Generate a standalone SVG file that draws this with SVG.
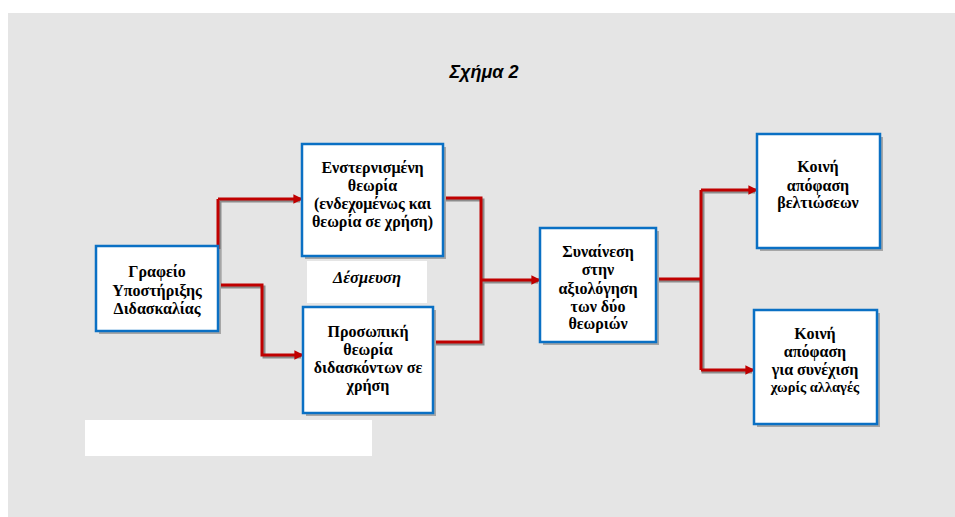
<svg xmlns="http://www.w3.org/2000/svg" width="955" height="517" viewBox="0 0 955 517">
<defs>
<style>
.bg{fill:#e5e5e5}
.box{fill:#ffffff;stroke:#0a70c4;stroke-width:2.5}
.sh{fill:#a6a6a6}
.t{font-family:"Liberation Serif","DejaVu Serif","Times New Roman",serif;font-weight:bold;font-size:16px;fill:#000;text-anchor:middle}
.ti{font-family:"Liberation Serif","DejaVu Serif","Times New Roman",serif;font-weight:bold;font-style:italic;font-size:16.5px;fill:#000;text-anchor:middle}
.title{font-family:"Liberation Sans",Arial,sans-serif;font-weight:bold;font-style:italic;font-size:18px;fill:#000;text-anchor:middle}
.ln{fill:none;stroke:#c00000;stroke-width:3}
.lnsh{fill:none;stroke:#8c8c8c;stroke-width:3}
</style>
<marker id="ar" viewBox="0 0 10 10" refX="9" refY="5" markerWidth="3.2" markerHeight="3.2" orient="auto" markerUnits="strokeWidth">
<path d="M0,0 L10,5 L0,10 z" fill="#c00000"/>
</marker>
</defs>
<rect class="bg" x="8" y="13" width="947" height="504"/>
<text class="title" x="484" y="78">Σχήμα 2</text>
<rect x="85" y="420" width="287" height="36" fill="#ffffff"/>

<g id="connectors">
<g transform="translate(2,2)">
<polyline class="lnsh" points="218,199 218,285"/>
<polyline class="lnsh" points="218,199 298,199"/>
<polyline class="lnsh" points="218,285 262,285 262,355 299,355"/>
<polyline class="lnsh" points="443,198 481,198 481,342 433,342"/>
<polyline class="lnsh" points="481,280 536,280"/>
<polyline class="lnsh" points="656,279 701,279"/>
<polyline class="lnsh" points="753,190 701,190 701,370 750,370"/>
</g>
<polyline class="ln" points="218,199 218,285"/>
<polyline class="ln" points="218,199 302,199" marker-end="url(#ar)"/>
<polyline class="ln" points="218,285 262,285 262,355 303,355" marker-end="url(#ar)"/>
<polyline class="ln" points="443,198 481,198 481,342 433,342"/>
<polyline class="ln" points="481,280 540,280" stroke-width="4" marker-end="url(#ar)"/>
<polyline class="ln" points="656,279 701,279" stroke-width="4"/>
<polyline class="ln" points="701,190 701,370"/>
<polyline class="ln" points="701,190 757,190" marker-end="url(#ar)"/>
<polyline class="ln" points="701,370 754,370" marker-end="url(#ar)"/>
</g>

<g id="node-grafeio">
<rect class="sh" x="99" y="249" width="122" height="85"/>
<rect class="box" x="96" y="246" width="122" height="85"/>
<text class="t" x="157" y="277">Γραφείο</text>
<text class="t" x="157" y="296">Υποστήριξης</text>
<text class="t" x="157" y="314">Διδασκαλίας</text>
</g>

<g id="node-enstern">
<rect class="sh" x="305" y="147" width="141" height="112"/>
<rect class="box" x="302" y="144" width="141" height="112"/>
<text class="t" x="372.5" y="173">Ενστερνισμένη</text>
<text class="t" x="372.5" y="191">θεωρία</text>
<text class="t" x="372.5" y="209">(ενδεχομένως και</text>
<text class="t" x="372.5" y="227">θεωρία σε χρήση)</text>
</g>

<g id="node-desmeusi">
<rect x="307" y="261" width="120" height="42" fill="#ffffff"/>
<text class="ti" x="367" y="283">Δέσμευση</text>
</g>

<g id="node-prosopiki">
<rect class="sh" x="306" y="310" width="130" height="106"/>
<rect class="box" x="303" y="307" width="130" height="106"/>
<text class="t" x="368" y="337">Προσωπική</text>
<text class="t" x="368" y="355">θεωρία</text>
<text class="t" x="368" y="373">διδασκόντων σε</text>
<text class="t" x="368" y="391">χρήση</text>
</g>

<g id="node-synainesi">
<rect class="sh" x="543" y="231" width="116" height="114"/>
<rect class="box" x="540" y="228" width="116" height="114"/>
<text class="t" x="598" y="257">Συναίνεση</text>
<text class="t" x="598" y="275">στην</text>
<text class="t" x="598" y="294">αξιολόγηση</text>
<text class="t" x="598" y="312">των δύο</text>
<text class="t" x="598" y="329">θεωριών</text>
</g>

<g id="node-veltioseis">
<rect class="sh" x="760" y="137" width="123" height="114"/>
<rect class="box" x="757" y="134" width="123" height="114"/>
<text class="t" x="818" y="172">Κοινή</text>
<text class="t" x="818" y="191">απόφαση</text>
<text class="t" x="818" y="208">βελτιώσεων</text>
</g>

<g id="node-synexisi">
<rect class="sh" x="757" y="313" width="123" height="114"/>
<rect class="box" x="754" y="310" width="123" height="114"/>
<text class="t" x="815" y="339">Κοινή</text>
<text class="t" x="815" y="357">απόφαση</text>
<text class="t" x="815" y="375">για συνέχιση</text>
<text class="t" x="815" y="392" style="font-size:14.5px">χωρίς αλλαγές</text>
</g>
</svg>
